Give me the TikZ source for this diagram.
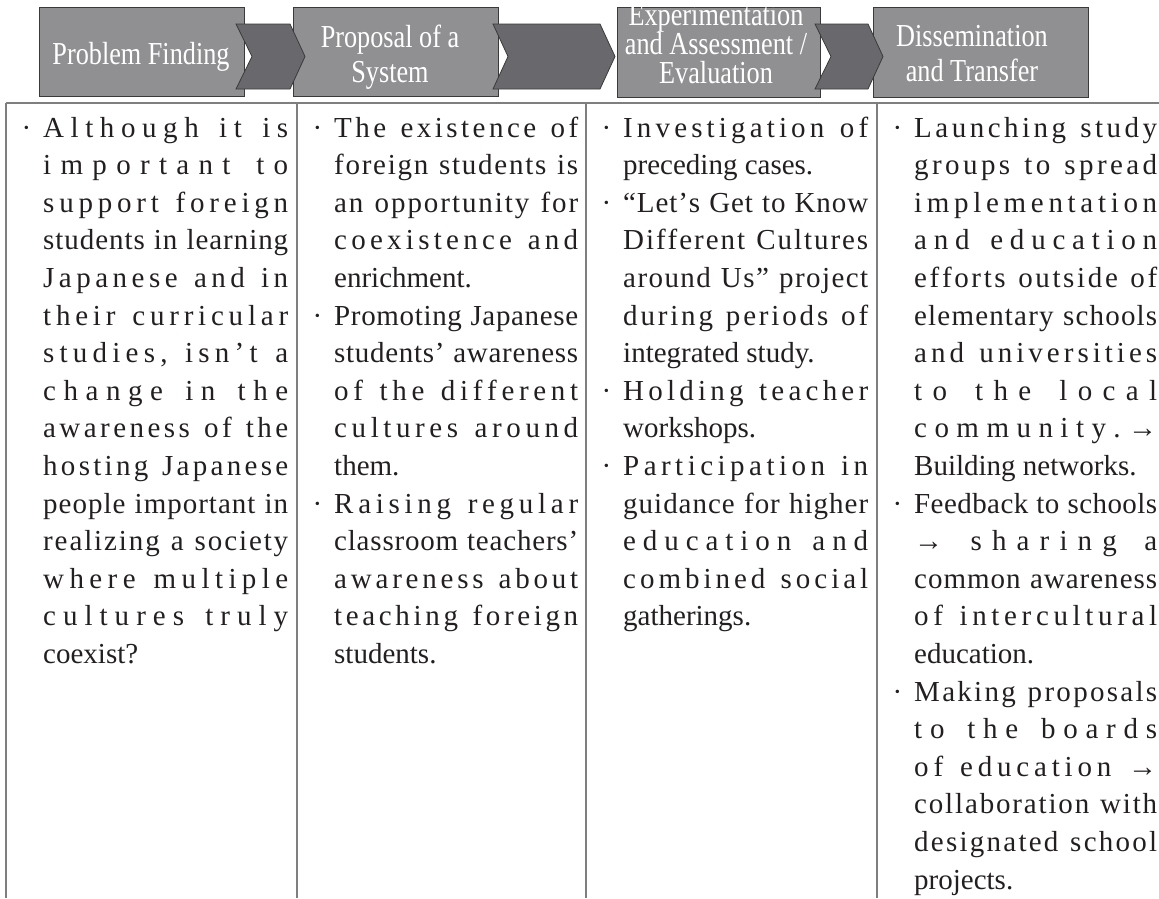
\documentclass[tikz,border=0pt]{standalone}
\usepackage{fontspec}
\setmainfont{Liberation Serif}
\newfontfamily\headfont{Liberation Serif}[FakeStretch=0.82]

\definecolor{boxfill}{HTML}{909093}
\definecolor{chevfill}{HTML}{69696D}
\definecolor{edge}{HTML}{3A3A3A}
\definecolor{rulegray}{HTML}{7F7F7F}
\definecolor{ink}{HTML}{231F20}

% Letter-spread justification: glue between every pair of characters,
% word spaces stretch twice as much on top of their natural width.
\makeatletter
\newif\ifsp@first
\def\spreadtext#1{\sp@firsttrue\sp@next#1\sp@end}
\def\sp@end{\sp@end}
\def\sp@next{\futurelet\sp@tok\sp@check}
\def\sp@check{%
  \ifx\sp@tok\sp@end \let\sp@do\sp@finish
  \else\ifx\sp@tok\@sptoken \let\sp@do\sp@space
  \else \let\sp@do\sp@char \fi\fi \sp@do}
\def\sp@finish\sp@end{}
\expandafter\def\expandafter\sp@space\space{%
  \hskip\fontdimen2\font plus 2fil\relax\sp@firsttrue\sp@next}
\def\sp@char#1{%
  \ifsp@first\else\hskip 0pt plus 1fil\relax\fi
  #1\sp@firstfalse\sp@next}
\makeatother

\newlength\linew
\newcommand\bul{\llap{\textperiodcentered\hskip 12pt}}
\newcommand\jline[1]{\hbox to\linew{\spreadtext{#1}}}
\newcommand\bline[1]{\hbox to\linew{\bul\spreadtext{#1}}}
\newcommand\eline[1]{\hbox{#1}}
\newcommand\arr{→}
\newcommand\colbody[2]{\parbox[t]{#1}{\linew=#1\relax
  \fontsize{29}{37.6}\selectfont\lineskiplimit=-\maxdimen #2}}

\tikzset{
  stagebox/.style={draw=edge, line width=1.1pt, fill=boxfill, inner sep=0pt,
    anchor=north west},
  chevron/.style={draw=edge, line width=0.8pt, fill=chevfill},
  headtext/.style={anchor=base, inner sep=0pt, text=white,
    font=\headfont\fontsize{32}{32}\selectfont},
  coltext/.style={anchor=base west, inner sep=0pt, text=ink},
  tablerule/.style={draw=rulegray, line width=1.2pt}
}

\begin{document}
\begin{tikzpicture}[x=1pt,y=-1pt]
\useasboundingbox (0,0) rectangle (1159,898);

% stage boxes
\node[stagebox, minimum width=205pt, minimum height=89pt] (b1) at (39,7) {};
\node[stagebox, minimum width=205pt, minimum height=89pt] (b2) at (293,7) {};
\node[stagebox, minimum width=203pt, minimum height=90pt] (b3) at (617,7) {};
\node[stagebox, minimum width=215pt, minimum height=90pt] (b4) at (873,7) {};

% chevrons between the stages
\draw[chevron] (236,24) -- (290,24) -- (305,56.5) -- (290,89) -- (236,89) -- (252,56.5) -- cycle;
\draw[chevron] (493,24) -- (600,24) -- (615,56.5) -- (600,89) -- (493,89) -- (508,56.5) -- cycle;
\draw[chevron] (815,24) -- (868,24) -- (883,56.5) -- (868,89) -- (815,89) -- (831,56.5) -- cycle;

% stage titles
\node[headtext] (t1) at (141,64) {Problem Finding};
\node[headtext] (t2a) at (390,47) {Proposal of a};
\node[headtext] (t2b) at (390,82) {System};
\node[headtext] (t3a) at (716,25) {Experimentation};
\node[headtext] (t3b) at (716,54) {and Assessment /};
\node[headtext] (t3c) at (716,83) {Evaluation};
\node[headtext] (t4a) at (972,46) {Dissemination};
\node[headtext] (t4b) at (972,81) {and Transfer};

% table rules
\draw[tablerule] (6,103) -- (1159,103);
\draw[tablerule] (6,103) -- (6,898);
\draw[tablerule] (297,103) -- (297,898);
\draw[tablerule] (586,103) -- (586,898);
\draw[tablerule] (877,103) -- (877,898);

% column texts
\node[coltext] (c1) at (43,137) {\colbody{245pt}{%
\bline{Although it is}
\jline{important to}
\jline{support foreign}
\jline{students in learning}
\jline{Japanese and in}
\jline{their curricular}
\jline{studies, isn’t a}
\jline{change in the}
\jline{awareness of the}
\jline{hosting Japanese}
\jline{people important in}
\jline{realizing a society}
\jline{where multiple}
\jline{cultures truly}
\eline{coexist?}}};

\node[coltext] (c2) at (334,137) {\colbody{244pt}{%
\bline{The existence of}
\jline{foreign students is}
\jline{an opportunity for}
\jline{coexistence and}
\eline{enrichment.}
\bline{Promoting Japanese}
\jline{students’ awareness}
\jline{of the different}
\jline{cultures around}
\eline{them.}
\bline{Raising regular}
\jline{classroom teachers’}
\jline{awareness about}
\jline{teaching foreign}
\eline{students.}}};

\node[coltext] (c3) at (623,137) {\colbody{245pt}{%
\bline{Investigation of}
\eline{preceding cases.}
\bline{“Let’s Get to Know}
\jline{Different Cultures}
\jline{around Us” project}
\jline{during periods of}
\eline{integrated study.}
\bline{Holding teacher}
\eline{workshops.}
\bline{Participation in}
\jline{guidance for higher}
\jline{education and}
\jline{combined social}
\eline{gatherings.}}};

\node[coltext] (c4) at (914,137) {\colbody{243pt}{%
\bline{Launching study}
\jline{groups to spread}
\jline{implementation}
\jline{and education}
\jline{efforts outside of}
\jline{elementary schools}
\jline{and universities}
\jline{to the local}
\jline{community.{\arr}}
\eline{Building networks.}
\bline{Feedback to schools}
\jline{{\arr} sharing a}
\jline{common awareness}
\jline{of intercultural}
\eline{education.}
\bline{Making proposals}
\jline{to the boards}
\jline{of education {\arr}}
\jline{collaboration with}
\jline{designated school}
\eline{projects.}}};
\end{tikzpicture}
\end{document}
